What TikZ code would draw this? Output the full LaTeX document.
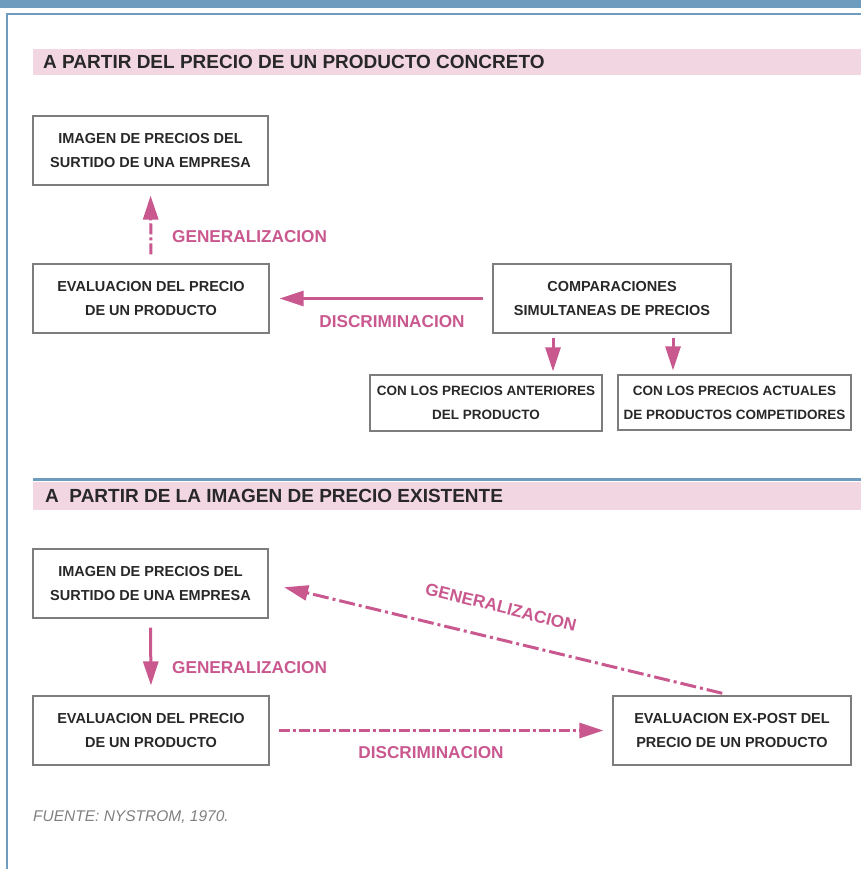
\documentclass[tikz,border=0pt]{standalone}
\usepackage{fontspec}
\setmainfont{Liberation Sans}
\usetikzlibrary{arrows.meta}
\definecolor{frameblue}{RGB}{110,156,190}
\definecolor{bandpink}{RGB}{242,215,226}
\definecolor{arrowpink}{RGB}{201,88,143}
\definecolor{boxgray}{RGB}{125,125,125}
\definecolor{textgray}{RGB}{40,40,40}
\tikzset{
	pricebox/.style={draw=boxgray, line width=1.2pt, text=textgray, align=center, inner sep=0pt,
		font=\fontsize{14.5}{24}\selectfont\bfseries},
	smallbox/.style={pricebox, font=\fontsize{13.5}{24}\selectfont\bfseries},
	flow/.style={draw=arrowpink, line width=3pt, -{Triangle[length=24pt,width=15pt]}},
	flowdash/.style={flow, dash pattern=on 11pt off 3pt on 3pt off 3pt},
	flowlabel/.style={text=arrowpink, inner sep=0pt, font=\fontsize{17.2}{20}\selectfont\bfseries},
	bandtext/.style={text=textgray, anchor=west, inner sep=0pt, font=\fontsize{19}{22}\selectfont\bfseries}
}
\begin{document}
\begin{tikzpicture}[x=1pt, y=-1pt]
		\useasboundingbox (0,0) rectangle (861,869);
		% frame and bands
		\fill[frameblue] (0,0) rectangle (861,8);
		\draw[frameblue, line width=2pt] (7,869) -- (7,14) -- (861,14);
		\fill[bandpink] (33,49) rectangle (861,75);
		\fill[frameblue] (33,478) rectangle (861,481);
		\fill[bandpink] (33,482) rectangle (861,510);
		\node[bandtext] (head1) at (43,62) {A PARTIR DEL PRECIO DE UN PRODUCTO CONCRETO};
		\node[bandtext] (head2) at (45,496) {A\ \ PARTIR DE LA IMAGEN DE PRECIO EXISTENTE};
		% upper part
		\node[pricebox, minimum width=235pt, minimum height=69pt] (image1) at (150.5,150.5) {IMAGEN DE PRECIOS DEL\\SURTIDO DE UNA EMPRESA};
		\node[pricebox, minimum width=236pt, minimum height=69pt] (eval1) at (151,298.5) {EVALUACION DEL PRECIO\\DE UN PRODUCTO};
		\node[pricebox, minimum width=238pt, minimum height=69pt] (compare) at (612,298.5) {COMPARACIONES\\SIMULTANEAS DE PRECIOS};
		\node[smallbox, minimum width=232pt, minimum height=56pt] (former) at (486,403) {CON LOS PRECIOS ANTERIORES\\DEL PRODUCTO};
		\node[smallbox, minimum width=233pt, minimum height=55pt] (rivals) at (734.5,402.5) {CON LOS PRECIOS ACTUALES\\DE PRODUCTOS COMPETIDORES};
		\draw[flowdash, shorten <=9pt, shorten >=10pt] (eval1.north) -- (image1.south);
		\draw[flow, shorten <=9pt, shorten >=10pt] (compare.west) -- (eval1.east);
		\draw[flow, shorten <=4pt, shorten >=3pt] ([xshift=-59pt]compare.south) -- ([xshift=67pt]former.north);
		\draw[flow, shorten <=4pt, shorten >=4pt] ([xshift=61pt]compare.south) -- ([xshift=-61.5pt]rivals.north);
		\node[flowlabel, anchor=west] (gen1) at (172,237) {GENERALIZACION};
		\node[flowlabel] (disc1) at (392,322) {DISCRIMINACION};
		% lower part
		\node[pricebox, minimum width=235pt, minimum height=69pt] (image2) at (150.5,583.5) {IMAGEN DE PRECIOS DEL\\SURTIDO DE UNA EMPRESA};
		\node[pricebox, minimum width=236pt, minimum height=69pt] (eval2) at (151,730.5) {EVALUACION DEL PRECIO\\DE UN PRODUCTO};
		\node[pricebox, minimum width=238pt, minimum height=69pt] (expost) at (732,730.5) {EVALUACION EX-POST DEL\\PRECIO DE UN PRODUCTO};
		\draw[flow, shorten <=9pt, shorten >=10pt] (image2.south) -- (eval2.north);
		\draw[flowdash, shorten <=9pt, shorten >=9pt] (eval2.east) -- (expost.west);
		\draw[flowdash, dash pattern=on 16pt off 4pt on 3pt off 4pt, shorten <=9pt, shorten >=16pt] ([xshift=-1pt]expost.north) -- (image2.east);
		\node[flowlabel, anchor=west] (gen2) at (172,668) {GENERALIZACION};
		\node[flowlabel] (disc2) at (431,753) {DISCRIMINACION};
		\node[flowlabel, rotate=-14] (gen3) at (501,607) {GENERALIZACION};
		% source
		\node[anchor=west, inner sep=0pt, text=gray, font=\fontsize{15.5}{18}\selectfont\itshape] (source) at (33,817) {FUENTE: NYSTROM, 1970.};
	\end{tikzpicture}
\end{document}
